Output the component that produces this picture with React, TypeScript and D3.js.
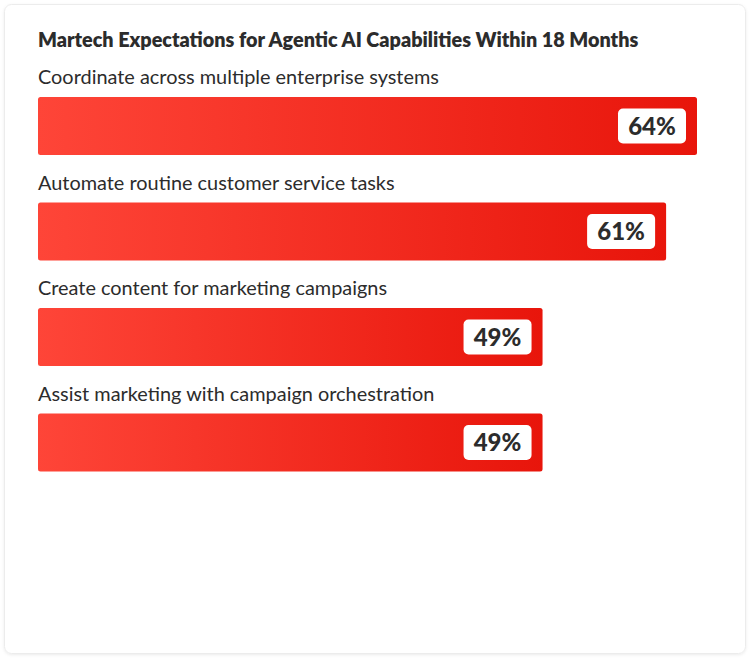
import React from 'react';
import * as d3 from 'd3';

const title = 'Martech Expectations for Agentic AI Capabilities Within 18 Months';
const categories = [
  'Coordinate across multiple enterprise systems',
  'Automate routine customer service tasks',
  'Create content for marketing campaigns',
  'Assist marketing with campaign orchestration',
];
const values = [64, 61, 49, 49];

const W = 750;
const H = 660;
const FONT = 'Lato, "Noto Sans", sans-serif';

export default function App() {
  const x = d3.scaleLinear().domain([0, 64]).range([38, 697]);
  const y = d3
    .scaleBand<string>()
    .domain(categories)
    .range([62, 484])
    .paddingInner(0);

  const barH = 58;

  return (
    <svg width={W} height={H} style={{ position: 'absolute', left: 0, top: 0 }}>
      <defs>
        <linearGradient id="barGrad" x1="0" y1="0" x2="1" y2="0">
          <stop offset="0%" stopColor="#fe4538" />
          <stop offset="100%" stopColor="#e8150b" />
        </linearGradient>
        <filter id="cardShadow" x="-5%" y="-5%" width="110%" height="110%">
          <feDropShadow dx="0" dy="1" stdDeviation="1.5" floodColor="#000" floodOpacity="0.08" />
        </filter>
      </defs>
      <rect x={0} y={0} width={W} height={H} fill="#fff" />
      <rect
        x={4.5}
        y={4.5}
        width={741}
        height={649}
        rx={7}
        fill="#fff"
        stroke="#ececec"
        filter="url(#cardShadow)"
      />
      <text
        x={38}
        y={47}
        fontFamily={FONT}
        fontWeight={800}
        fontSize={19.8}
        fill="#2c2c2c"
      >
        {title}
      </text>
      {categories.map((c, i) => {
        const top = y(c)!;
        const barY = top + 35;
        const xe = x(values[i]);
        const boxW = 68;
        const boxH = 35;
        const boxX = xe - 11 - boxW;
        const boxY = barY + (barH - boxH) / 2;
        return (
          <g key={c}>
            <text x={38} y={top + 22} fontFamily={FONT} fontSize={19.9} fill="#2c2c2c">
              {c}
            </text>
            <rect
              x={x(0)}
              y={barY}
              width={xe - x(0)}
              height={barH}
              rx={2.5}
              fill="url(#barGrad)"
            />
            <rect x={boxX} y={boxY} width={boxW} height={boxH} rx={5} fill="#fff" />
            <text
              x={boxX + boxW / 2}
              y={boxY + boxH / 2 + 8.5}
              textAnchor="middle"
              fontFamily={FONT}
              fontWeight={900}
              fontSize={24}
              fill="#2c2c2c"
            >
              {values[i]}%
            </text>
          </g>
        );
      })}
    </svg>
  );
}
